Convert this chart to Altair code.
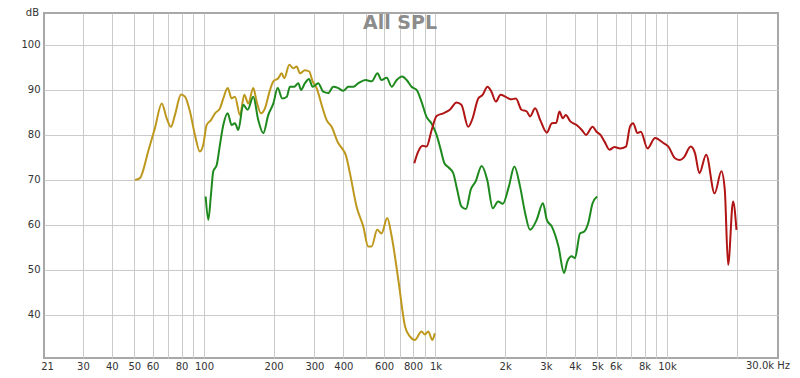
import altair as alt
import pandas as pd

# ---- data (frequency in Hz, level in dB) ----
gold_freq = [50.3, 52.9, 53.8, 57.4, 61.4, 65.7, 69.0, 72.0, 74.9, 79.6, 82.8, 87.0, 91.4, 96.0, 99.3,
             102.7, 107.2, 111.6, 117.2, 121.2, 126.6, 131.7, 136.1, 143.1, 149.3, 155.4, 163.3, 168.9,
             176.3, 183.4, 192.9, 199.4, 209.4, 216.5, 222.2, 233.7, 243.1, 251.4, 259.8, 273, 284.9,
             294.7, 306.7, 322.2, 338.8, 356, 380, 395, 410, 427, 456, 488, 512, 530, 560, 585, 619,
             647, 691, 739, 775, 814, 870, 900, 930, 970, 993]
gold_db = [70.0, 70.4, 71.1, 76.3, 81.5, 87.0, 83.7, 81.8, 84.4, 89.0, 88.5, 85.2, 80.0, 76.3, 77.8,
           82.2, 83.3, 84.8, 85.9, 88.1, 90.4, 88.1, 88.5, 84.4, 88.9, 87.0, 90.4, 87.4,
           84.8, 85.9, 90.0, 91.9, 92.6, 93.7, 92.6, 95.6, 94.8, 95.2, 93.7, 94.4, 94.1,
           91.9, 90.4, 86.7, 83.3, 81.8, 78.2, 77.0, 75.5, 71.5, 64.1, 59.6, 55.2, 55.2, 58.9, 58.1, 61.5,
           57.4, 47.8, 37.4, 35.2, 34.4, 36.3, 35.6, 36.3, 34.4, 35.9]

green_freq = [101.7, 104.4, 107.2, 109.7, 113.5, 117.2, 121.2, 126.6, 131.7, 136.1, 140.7, 147.8,
              154.4, 163.3, 171.6, 180.4, 189.5, 199.4, 208.1, 217.9, 227.9, 235.1, 245.6, 255.6,
              262.4, 273, 284.3, 294.7, 311.6, 327.2, 344, 361.9, 380.6, 399.5, 420.3, 441.8, 464.5,
              499, 530, 562, 584, 616, 647, 680, 718, 751, 788, 829, 870, 915, 963, 1011, 1050, 1093,
              1137, 1193, 1241, 1294, 1354, 1420, 1489, 1584, 1673, 1768, 1864, 1954, 2074, 2192,
              2320, 2440, 2562, 2735, 2912, 3027, 3182, 3398, 3594, 3713, 3877, 4005, 4210, 4392,
              4570, 4771, 4995]
green_db = [66.3, 61.1, 66.7, 71.9, 73.3, 77.8, 82.2, 84.8, 82.2, 82.6, 81.1, 86.7,
            85.6, 88.5, 83.3, 80.4, 84.4, 87.0, 90.4, 88.1, 88.5, 90.7, 90.7, 91.5,
            90.0, 91.5, 92.4, 90.7, 91.5, 89.6, 89.3, 90.7, 90.4, 89.8, 90.7, 90.7, 91.5,
            92.2, 91.9, 93.7, 92.2, 92.7, 90.7, 92.2, 93.0, 92.2, 90.7, 90.0, 87.4, 84.0, 82.5, 80.0, 77.0, 73.7,
            72.8, 71.5, 67.8, 64.1, 63.5, 67.8, 69.6, 73.1, 70.0, 63.7, 65.2, 64.7, 68.5, 73.0,
            68.5, 62.6, 58.9, 61.1, 64.8, 61.1, 59.6, 55.2, 49.3, 51.9, 53.0, 52.6, 58.1, 58.5,
            60.4, 64.8, 66.3]

red_freq = [810, 842, 881, 915, 963, 1011, 1080, 1154, 1234, 1294, 1385, 1447, 1530, 1598, 1678,
            1745, 1823, 1910, 2019, 2132, 2225, 2351, 2479, 2562, 2694, 2835, 3027, 3182, 3325,
            3431, 3546, 3655, 3824, 4071, 4286, 4470, 4771, 4962, 5160, 5375, 5646, 5927, 6273,
            6651, 6918, 7143, 7456, 7710, 8239, 8881, 9649, 10138, 10830, 11380, 11840, 12660,
            13220, 13800, 14770, 16060, 17180, 17770, 18370, 19300, 19960]
red_db = [73.7, 76.3, 77.6, 77.4, 81.1, 84.2, 84.8, 85.6, 87.2, 86.7, 81.8, 83.7, 88.1, 88.9, 90.7,
          89.6, 87.4, 88.9, 88.4, 87.9, 88.1, 85.6, 85.2, 84.1, 85.9, 83.3, 80.5, 82.6, 82.7,
          85.2, 83.7, 84.4, 83.0, 82.2, 81.1, 80.0, 81.8, 80.7, 80.0, 78.5, 76.7, 77.3, 77.0,
          77.4, 81.8, 82.6, 80.4, 80.7, 77.0, 79.3, 78.2, 77.4, 74.8, 74.4, 75.0, 77.4,
          75.9, 71.5, 75.6, 67.0, 71.9, 67.8, 51.1, 65.2, 58.9]

series_names = ["gold", "green", "red"]
series_colors = ["#bd981d", "#1e8a1e", "#b01414"]

grid_freqs = [21, 30, 40, 50, 60, 70, 80, 90, 100, 200, 300, 400, 500, 600, 700, 800, 900,
              1000, 2000, 3000, 4000, 5000, 6000, 7000, 8000, 9000, 10000, 20000]
plain_labels = [21, 30, 40, 50, 60, 80, 100, 200, 300, 400, 600, 800]
k_labels = [1000, 2000, 3000, 4000, 5000, 6000, 8000, 10000]
y_ticks = [40, 50, 60, 70, 80, 90, 100]

rows = []
for name, fr, db in zip(series_names, [gold_freq, green_freq, red_freq], [gold_db, green_db, red_db]):
    for i, (f, d) in enumerate(zip(fr, db)):
        rows.append({"series": name, "freq": f, "db": d, "idx": i})
df = pd.DataFrame(rows)

W, H = 734, 345
FONT = "DejaVu Sans"

xscale = alt.Scale(type="log", domain=[20.37, 30170], nice=False)
yscale = alt.Scale(domain=[30.4, 107.1], nice=False, zero=False)

label_expr = (
    "indexof(" + str(plain_labels) + ", datum.value) >= 0 ? '' + datum.value : "
    "(indexof(" + str(k_labels) + ", datum.value) >= 0 ? (datum.value / 1000) + 'k' : '')"
)

lines = alt.Chart(df).mark_line(strokeWidth=2, interpolate="monotone", clip=True).encode(
    x=alt.X("freq:Q", scale=xscale,
            axis=alt.Axis(values=grid_freqs, labelExpr=label_expr, grid=True,
                          gridColor={"condition": {"test": "datum.value == 21", "value": "transparent"},
                                     "value": "#cbcbcb"},
                          gridWidth=1, ticks=False, domain=False, title=None,
                          labelOverlap=False, labelBound=False, labelFlush=False,
                          labelFont=FONT, labelFontSize=10, labelColor="#333333",
                          labelPadding=3)),
    y=alt.Y("db:Q", scale=yscale,
            axis=alt.Axis(values=y_ticks, grid=True, gridColor="#cbcbcb", gridWidth=1,
                          ticks=False, domain=False, title=None,
                          labelFont=FONT, labelFontSize=10, labelColor="#333333",
                          labelPadding=4)),
    color=alt.Color("series:N", scale=alt.Scale(domain=series_names, range=series_colors), legend=None),
    order=alt.Order("idx:Q"),
)

title_df = pd.DataFrame({"t": ["All SPL"]})
title_text = alt.Chart(title_df).mark_text(
    font=FONT, fontSize=19, fontWeight="bold", color="#8c8c8c", align="center", baseline="middle"
).encode(x=alt.value(W / 2 - 11), y=alt.value(10), text="t:N")

db_df = pd.DataFrame({"t": ["dB"]})
db_text = alt.Chart(db_df).mark_text(
    font=FONT, fontSize=10, color="#333333", align="right", baseline="top"
).encode(x=alt.value(-5), y=alt.value(-5), text="t:N")

hz_df = pd.DataFrame({"t": ["30.0k Hz"]})
hz_text = alt.Chart(hz_df).mark_text(
    font=FONT, fontSize=10, color="#333333", align="right", baseline="top"
).encode(x=alt.value(W + 12), y=alt.value(H + 3), text="t:N")

chart = alt.layer(lines, title_text, db_text, hz_text).properties(
    width=W, height=H,
    autosize=alt.AutoSizeParams(type="none"),
    padding={"left": 36, "top": 5, "right": 14, "bottom": 12},
).configure_view(stroke="#a8a8a8", strokeWidth=2)

chart.save("out.html", embed_options={"renderer": "svg", "actions": False})
